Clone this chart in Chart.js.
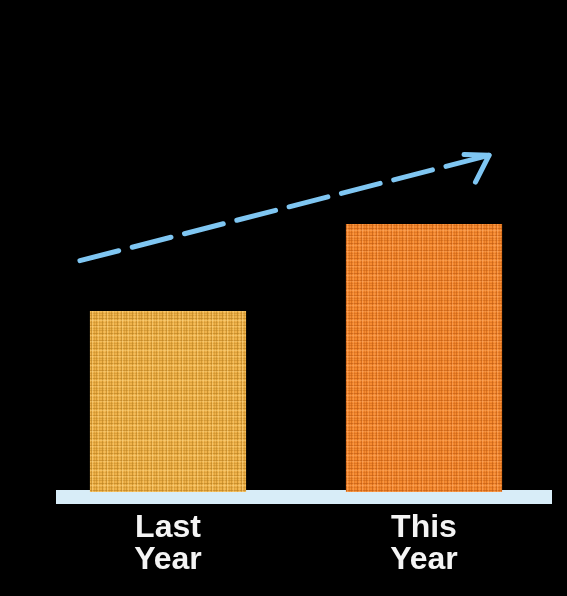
<!DOCTYPE html>
<html>
<head>
<meta charset="utf-8">
<script src="https://cdn.jsdelivr.net/npm/chart.js@4"></script>
<style>
  html,body{margin:0;padding:0;background:#000;}
  #wrap{width:567px;height:596px;}
</style>
</head>
<body>
<div id="wrap"><canvas id="c"></canvas></div>
<script>
// ---- data ----
const categories = [["Last", "Year"], ["This", "Year"]];
const barValues = [50, 74];
const trendX = [-0.344, 1.254];
const trendY = [63.9, 93.0];
const baseX = [-0.4375, 1.5];
const baseY = [-1.4, -1.4];

function texture(base, dark, light) {
  const t = document.createElement('canvas');
  t.width = 15; t.height = 15;
  const g = t.getContext('2d');
  g.fillStyle = base; g.fillRect(0, 0, 15, 15);
  g.fillStyle = dark;
  [[1, 0.55], [4, 0.3], [6, 0.5], [9, 0.25], [12, 0.6]].forEach(([x, a]) => { g.globalAlpha = a; g.fillRect(x, 0, 1, 15); });
  [[0, 0.4], [3, 0.6], [7, 0.3], [10, 0.55], [13, 0.35]].forEach(([y, a]) => { g.globalAlpha = a; g.fillRect(0, y, 15, 1); });
  g.fillStyle = light;
  [[2, 0.45], [8, 0.35], [14, 0.3]].forEach(([x, a]) => { g.globalAlpha = a; g.fillRect(x, 0, 1, 15); });
  [[5, 0.4], [11, 0.3]].forEach(([y, a]) => { g.globalAlpha = a; g.fillRect(0, y, 15, 1); });
  return g.createPattern(t, 'repeat');
}
const ctx = document.getElementById('c').getContext('2d');
const yellowTex = texture('#efb24a', '#b98020', '#ffd98c');
const orangeTex = texture('#f58a30', '#bf5a10', '#ffae6c');

const arrowHead = {
  id: 'arrowHead',
  afterDatasetsDraw(chart) {
    const meta = chart.getDatasetMeta(2);
    const pts = meta.data;
    if (pts.length < 2) return;
    const a = pts[0], b = pts[pts.length - 1];
    const back = Math.atan2(a.y - b.y, a.x - b.x);
    const c = chart.ctx;
    c.save();
    c.strokeStyle = '#7fc6f2';
    c.lineWidth = 5;
    c.lineCap = 'round';
    [[back + 0.29, 25], [back - 0.85, 30]].forEach(([t, len]) => {
      c.beginPath();
      c.moveTo(b.x, b.y);
      c.lineTo(b.x + Math.cos(t) * len, b.y + Math.sin(t) * len);
      c.stroke();
    });
    c.restore();
  }
};

new Chart(ctx, {
  data: {
    labels: categories,
    datasets: [
      {
        type: 'line',
        xAxisID: 'x2',
        data: baseX.map((x, i) => ({ x, y: baseY[i] })),
        borderColor: '#d8edf8',
        borderWidth: 14,
        pointRadius: 0,
        clip: false,
        order: 3
      },
      {
        type: 'bar',
        xAxisID: 'x',
        data: barValues,
        backgroundColor: [yellowTex, orangeTex],
        borderWidth: 0,
        grouped: false,
        categoryPercentage: 1,
        barPercentage: 0.61,
        order: 2
      },
      {
        type: 'line',
        xAxisID: 'x2',
        data: trendX.map((x, i) => ({ x, y: trendY[i] })),
        borderColor: '#7fc6f2',
        borderWidth: 5,
        borderDash: [40, 14],
        borderCapStyle: 'round',
        pointRadius: 0,
        clip: false,
        order: 1
      }
    ]
  },
  options: {
    responsive: true,
    maintainAspectRatio: false,
    animation: false,
    layout: { padding: { left: 40, right: 15, top: 130, bottom: 0 } },
    plugins: { legend: { display: false }, tooltip: { enabled: false } },
    scales: {
      x: {
        grid: { display: false, drawTicks: false },
        border: { display: false },
        ticks: {
          color: '#f4f4f4',
          font: { family: 'Liberation Sans', size: 32, weight: 'bold', lineHeight: 1.0 },
          padding: 20
        }
      },
      x2: { type: 'linear', min: -0.5, max: 1.5, display: false },
      y: { min: 0, max: 100, display: false }
    }
  },
  plugins: [arrowHead]
});
</script>
</body>
</html>
